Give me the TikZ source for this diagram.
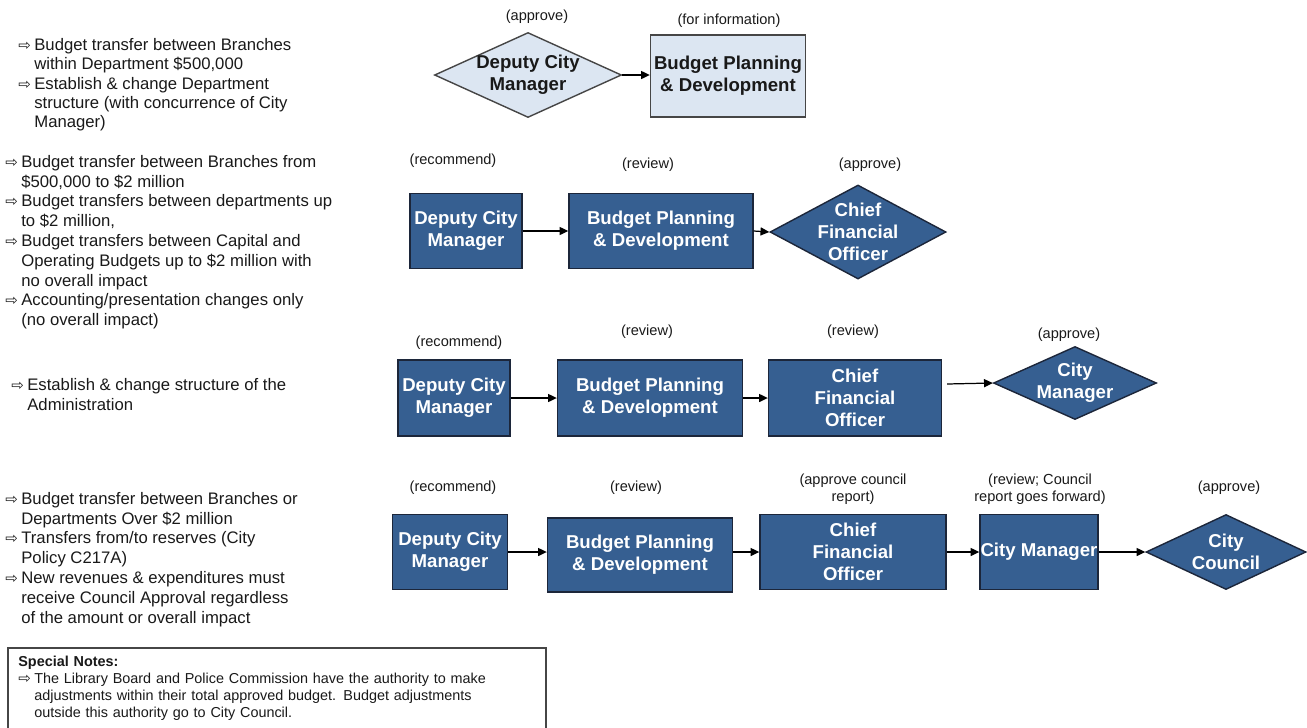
\documentclass[tikz,border=0pt]{standalone}
\usepackage{fontspec}
\setmainfont{Liberation Sans}
\newfontfamily\arrowfont{DejaVu Sans}
\usetikzlibrary{shapes.geometric,arrows.meta}

\definecolor{boxblue}{RGB}{54,95,145}
\definecolor{boxedge}{RGB}{28,38,58}
\definecolor{paleblue}{RGB}{220,230,242}
\definecolor{paleedge}{RGB}{70,70,70}
\definecolor{inkgray}{RGB}{25,25,25}

\newcommand\px{0.02cm}
\newcommand\bul{\makebox[0.32cm][l]{\arrowfont\fontsize{8.5}{8.5}\selectfont ⇨}}
\newcommand\ind{\hspace*{0.32cm}}

\begin{document}
\begin{tikzpicture}[x=0.02cm,y=-0.02cm,
    sidetext/.style={anchor=north west,inner sep=0pt,align=left,text=inkgray,
      font=\fontsize{9.5}{11.25}\selectfont},
    darkbox/.style={draw=boxedge,line width=0.8pt,fill=boxblue,text=white,
      align=center,inner sep=0pt,font=\fontsize{10.6}{12.4}\selectfont\bfseries},
    palebox/.style={darkbox,draw=paleedge,fill=paleblue,text=inkgray},
    darkdia/.style={diamond,draw=boxedge,line width=0.8pt,fill=boxblue,inner sep=0pt},
    paledia/.style={darkdia,draw=paleedge,fill=paleblue},
    diatext/.style={text=white,align=center,font=\fontsize{10.6}{12.4}\selectfont\bfseries},
    tag/.style={align=center,text=inkgray,font=\fontsize{8.3}{9.6}\selectfont},
    arr/.style={-{Triangle[length=5pt,width=4.6pt]},line width=0.7pt}]
  \useasboundingbox (0,0) rectangle (1307,727);

  % Left-hand descriptions
  \node[sidetext,font=\fontsize{9.5}{11}\selectfont] (side1) at (18,38)
    {\bul Budget transfer between Branches\\
    \ind within Department \$500,000\\
    \bul Establish \& change Department\\
    \ind structure (with concurrence of City\\
    \ind Manager)};
  \node[sidetext] (side2) at (5,155) {\bul Budget transfer between Branches from\\
    \ind \$500,000 to \$2 million\\
    \bul Budget transfers between departments up\\
    \ind to \$2 million,\\
    \bul Budget transfers between  Capital and\\
    \ind Operating Budgets up to \$2 million with\\
    \ind no overall impact\\
    \bul Accounting/presentation changes  only\\
    \ind (no overall impact)};
  \node[sidetext] (side3) at (11,378) {\bul Establish \& change structure of the\\
    \ind Administration};
  \node[sidetext] (side4) at (5,492) {\bul Budget transfer between Branches or\\
    \ind Departments Over \$2 million\\
    \bul Transfers from/to reserves (City\\
    \ind Policy C217A)\\
    \bul New revenues \& expenditures  must\\
    \ind receive Council Approval regardless\\
    \ind of the amount or overall impact};

  % Special notes (frame runs off the bottom edge)
  \node[anchor=north west,align=left,text=inkgray,inner sep=0pt,text width=518*\px,
    font=\fontsize{8.2}{9.6}\selectfont] (notes) at (18,656)
    {\textbf{Special Notes:}\\
    \bul The Library Board and Police Commission  have the authority to make\\
    \ind adjustments within their  total approved budget.  Budget adjustments\\
    \ind outside this authority go to City Council.};
  \draw[paleedge,line width=0.8pt] (8,740) |- (546,648) -- (546,740);

  % Row 1
  \node[paledia,minimum width=187*\px,minimum height=85*\px,
    label={[diatext,text=inkgray]center:Deputy City\\Manager}] (dcm1) at (528,75) {};
  \node[palebox,minimum width=155*\px,minimum height=82*\px] (bpd1) at (728,76)
    {Budget Planning\\\& Development};
  \node[tag] (t11) at (537,17) {(approve)};
  \node[tag] (t12) at (729,21) {(for information)};
  \draw[arr] (dcm1.east) -- (dcm1.east -| bpd1.west);

  % Row 2
  \node[darkbox,minimum width=112*\px,minimum height=75*\px] (dcm2) at (466,231)
    {Deputy City\\Manager};
  \node[darkbox,minimum width=184*\px,minimum height=75*\px] (bpd2) at (661,231)
    {Budget Planning\\\& Development};
  \node[darkdia,minimum width=176*\px,minimum height=94*\px,
    label={[diatext]center:Chief\\Financial\\Officer}] (cfo2) at (858,232) {};
  \node[tag] (t21) at (453,161) {(recommend)};
  \node[tag] (t22) at (648,165) {(review)};
  \node[tag] (t23) at (870,165) {(approve)};
  \draw[arr] (dcm2) -- (bpd2);
  \draw[arr] (bpd2.east) -- (cfo2.west);

  % Row 3
  \node[darkbox,minimum width=112*\px,minimum height=76*\px] (dcm3) at (454,398)
    {Deputy City\\Manager};
  \node[darkbox,minimum width=185*\px,minimum height=76*\px] (bpd3) at (650,398)
    {Budget Planning\\\& Development};
  \node[darkbox,minimum width=173*\px,minimum height=76*\px] (cfo3) at (855,398)
    {Chief\\Financial\\Officer};
  \node[darkdia,minimum width=163*\px,minimum height=73*\px,
    label={[diatext]center:City\\Manager}] (cm3) at (1075,383) {};
  \node[tag] (t31) at (459,343) {(recommend)};
  \node[tag] (t32) at (647,332) {(review)};
  \node[tag] (t33) at (853,332) {(review)};
  \node[tag] (t34) at (1069,335) {(approve)};
  \coordinate (s3) at (947,384);
  \draw[arr] (dcm3) -- (bpd3);
  \draw[arr] (bpd3) -- (cfo3);
  \draw[arr] (s3) -- (cm3.west);

  % Row 4
  \node[darkbox,minimum width=115*\px,minimum height=75*\px] (dcm4) at (450,552)
    {Deputy City\\Manager};
  \node[darkbox,minimum width=185*\px,minimum height=74*\px] (bpd4) at (640,555)
    {Budget Planning\\\& Development};
  \node[darkbox,minimum width=186*\px,minimum height=75*\px] (cfo4) at (853,552)
    {Chief\\Financial\\Officer};
  \node[darkbox,minimum width=118*\px,minimum height=75*\px] (cm4) at (1039,552)
    {City Manager};
  \node[darkdia,minimum width=160*\px,minimum height=75*\px,
    label={[diatext]center:City\\Council}] (cc4) at (1226,552) {};
  \node[tag] (t41) at (453,488) {(recommend)};
  \node[tag] (t42) at (636,488) {(review)};
  \node[tag] (t43) at (853,489) {(approve council\\report)};
  \node[tag] (t44) at (1040,489) {(review; Council\\report goes forward)};
  \node[tag] (t45) at (1229,488) {(approve)};
  \draw[arr] (dcm4.east) -- (dcm4.east -| bpd4.west);
  \draw[arr] (bpd4.east |- cfo4.west) -- (cfo4.west);
  \draw[arr] (cfo4) -- (cm4);
  \draw[arr] (cm4) -- (cc4);
\end{tikzpicture}
\end{document}
